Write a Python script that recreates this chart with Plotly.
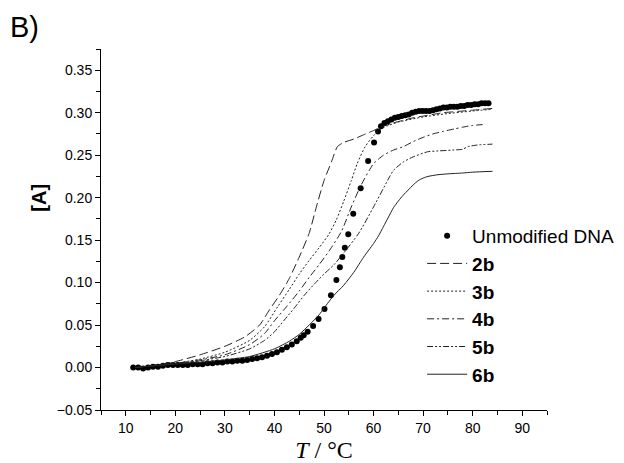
import plotly.graph_objects as go

# ---------------- data ----------------
dna_T = [11.5, 12.5, 13.5, 14.5, 15.5, 16.5, 17.5, 18.5, 19.5, 20.5, 21.5, 22.5, 23.5, 24.5,
         25.5, 26.5, 27.5, 28.5, 29.5, 30.5, 31.5, 32.5, 33.5, 34.5, 35.5, 36.5, 37.5, 38.5,
         39.5, 40.5, 41.5, 42.5, 43.5, 44.5, 45.3, 45.9, 46.7, 47.8, 48.9, 50.1, 51.4, 52.5,
         53.2, 53.7, 54.2, 54.9, 55.9, 57.4, 58.9, 60.1, 60.9, 61.5, 62.2, 62.9, 63.6, 64.3,
         65.0, 65.7, 66.4, 67.1, 67.8, 68.5, 69.2, 69.9, 70.6, 71.3, 72.0, 72.7, 73.4, 74.1,
         74.8, 75.5, 76.2, 76.9, 77.6, 78.3, 79.0, 79.7, 80.4, 81.1, 81.8, 82.5, 83.2]
dna_A = [0.000, 0.000, -0.001, 0.000, 0.001, 0.001, 0.002, 0.003, 0.003, 0.003, 0.003, 0.003,
         0.004, 0.004, 0.004, 0.005, 0.005, 0.006, 0.006, 0.007, 0.007, 0.008, 0.008, 0.009,
         0.010, 0.011, 0.012, 0.014, 0.016, 0.018, 0.021, 0.024, 0.027, 0.031, 0.035, 0.038,
         0.042, 0.049, 0.057, 0.069, 0.085, 0.103, 0.118, 0.130, 0.141, 0.157, 0.181, 0.211,
         0.243, 0.265, 0.278, 0.284, 0.288, 0.290, 0.292, 0.294, 0.295, 0.296, 0.297, 0.298,
         0.300, 0.301, 0.302, 0.302, 0.302, 0.302, 0.303, 0.304, 0.305, 0.306, 0.306, 0.307,
         0.307, 0.307, 0.308, 0.308, 0.309, 0.309, 0.310, 0.310, 0.311, 0.311, 0.311]

b2_T = [12, 15, 20, 25, 30, 34, 37, 39, 41, 43, 45, 47, 48.5, 50, 51.5, 52.7, 54, 56, 58, 60,
        62, 64, 66, 68, 70, 72, 74, 76, 78, 80, 82, 84]
b2_A = [0.000, 0.002, 0.007, 0.015, 0.025, 0.036, 0.050, 0.068, 0.085, 0.105, 0.130, 0.158,
        0.190, 0.220, 0.242, 0.260, 0.265, 0.269, 0.274, 0.279, 0.284, 0.288, 0.291, 0.294,
        0.296, 0.298, 0.300, 0.301, 0.302, 0.303, 0.304, 0.305]

b3_T = [12, 20, 25, 30, 35, 38, 40.7, 43, 45, 47, 49, 51, 52.5, 54, 55.5, 56.7, 58.3, 60,
        61.5, 63, 65, 70, 75, 80, 84]
b3_A = [0.000, 0.005, 0.010, 0.018, 0.032, 0.048, 0.072, 0.092, 0.110, 0.126, 0.141, 0.157,
        0.174, 0.196, 0.220, 0.240, 0.260, 0.273, 0.281, 0.285, 0.289, 0.295, 0.299, 0.302,
        0.304]

b4_T = [12, 15, 20, 25, 30, 35, 38, 40, 42.5, 45, 47, 49, 51, 53.5, 55.5, 57.5, 60, 62, 64,
        66, 68, 70, 72, 74, 76.4, 78, 80, 82]
b4_A = [0.000, 0.002, 0.005, 0.009, 0.015, 0.027, 0.040, 0.055, 0.072, 0.090, 0.106, 0.121,
        0.137, 0.160, 0.189, 0.215, 0.240, 0.250, 0.256, 0.260, 0.266, 0.271, 0.275, 0.278,
        0.281, 0.283, 0.285, 0.286]

b5_T = [12, 15, 20, 25, 30, 35, 38, 40, 42, 44, 46, 48, 50, 52, 54, 57, 60, 62.9, 64, 66, 68,
        70.9, 73, 76, 78, 79, 81, 84]
b5_A = [0.000, 0.002, 0.004, 0.008, 0.013, 0.022, 0.032, 0.042, 0.056, 0.070, 0.085, 0.098,
        0.110, 0.121, 0.135, 0.158, 0.189, 0.221, 0.232, 0.242, 0.248, 0.254, 0.255, 0.256,
        0.257, 0.260, 0.262, 0.263]

b6_T = [12, 20, 25, 30, 35, 40, 43, 45, 47, 49, 50, 52, 54, 56, 58, 60, 61, 62, 63, 64, 65,
        66, 67, 68, 69, 70, 71, 73, 75, 78, 80, 84]
b6_A = [0.000, 0.004, 0.006, 0.009, 0.013, 0.022, 0.031, 0.039, 0.050, 0.062, 0.070, 0.085,
        0.097, 0.112, 0.130, 0.146, 0.155, 0.166, 0.177, 0.188, 0.196, 0.203, 0.209, 0.215,
        0.220, 0.223, 0.225, 0.227, 0.228, 0.229, 0.230, 0.231]

series = [
    ("<b>2b</b>", b2_T, b2_A, "9px,4px"),
    ("<b>3b</b>", b3_T, b3_A, "2px,2px"),
    ("<b>4b</b>", b4_T, b4_A, "7px,3px,2px,3px"),
    ("<b>5b</b>", b5_T, b5_A, "6px,2px,2px,2px,2px,2px"),
    ("<b>6b</b>", b6_T, b6_A, "solid"),
]

x_ticks = [10, 20, 30, 40, 50, 60, 70, 80, 90]
y_ticks = [-0.05, 0.00, 0.05, 0.10, 0.15, 0.20, 0.25, 0.30, 0.35]

# ---------------- figure ----------------
fig = go.Figure()
fig.add_trace(go.Scatter(
    x=dna_T, y=dna_A, mode="markers", name="Unmodified DNA",
    marker=dict(color="black", size=6, symbol="circle"),
))
for name, tx, ay, dash in series:
    fig.add_trace(go.Scatter(
        x=tx, y=ay, mode="lines", name=name,
        line=dict(color="#222222", width=1, dash=dash, shape="spline", smoothing=0.6),
    ))

axis_common = dict(
    showline=True, linecolor="black", linewidth=1, mirror=False,
    showgrid=False, zeroline=False, ticks="outside", ticklen=5, tickwidth=1,
    tickcolor="black", tickfont=dict(family="Liberation Sans, Arial", size=14, color="black"),
)

fig.update_xaxes(
    range=[5, 95], tickvals=x_ticks,
    minor=dict(dtick=5, tick0=5, ticks="outside", ticklen=4, tickcolor="black"),
    title=dict(text="<i>T</i> / °C",
               font=dict(family="Liberation Serif, Times New Roman", size=24, color="black"),
               standoff=6),
    **axis_common,
)
fig.update_yaxes(
    range=[-0.05, 0.375], tickvals=y_ticks, tickformat=".2f",
    minor=dict(dtick=0.025, tick0=0, ticks="outside", ticklen=4, tickcolor="black"),
    **axis_common,
)

fig.update_layout(
    width=624, height=463,
    margin=dict(l=93, r=85, t=41, b=59),
    paper_bgcolor="white", plot_bgcolor="white",
    showlegend=True,
    legend=dict(
        x=0.72, y=0.535, xanchor="left", yanchor="top",
        bgcolor="rgba(0,0,0,0)", borderwidth=0,
        font=dict(family="Liberation Sans, Arial", size=19, color="black"),
        itemwidth=40, tracegroupgap=0,
    ),
    annotations=[
        dict(text="B)", x=0, y=1, xref="paper", yref="paper", xanchor="left", yanchor="top",
             xshift=-93, yshift=40, showarrow=False,
             font=dict(family="Liberation Sans, Arial", size=29, color="black")),
        dict(text="<b>[A]</b>", x=0, y=0.2, xref="paper", yref="y", xanchor="center",
             yanchor="middle", xshift=-62, textangle=-90, showarrow=False,
             font=dict(family="Liberation Sans, Arial", size=20, color="black")),
    ],
)

fig.write_html("out.html")
